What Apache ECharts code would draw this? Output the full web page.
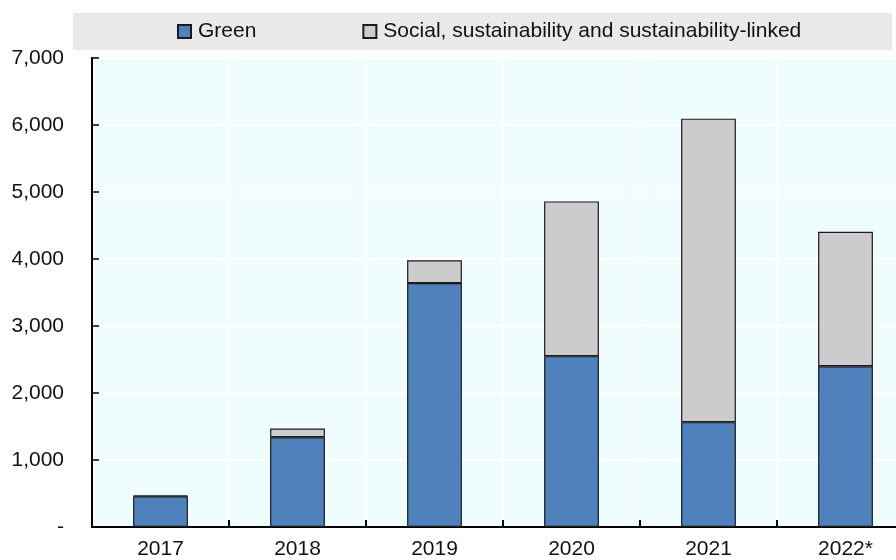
<!DOCTYPE html>
<html>
<head>
<meta charset="utf-8">
<script src="https://cdn.jsdelivr.net/npm/echarts@6/dist/echarts.min.js"></script>
<style>
html,body{margin:0;padding:0;background:#fff;overflow:hidden;width:896px;height:560px;}
#chart{width:914px;height:560px;}
</style>
</head>
<body>
<div id="chart"></div>
<script>
var categories = ['2017', '2018', '2019', '2020', '2021', '2022*'];
var greenValues = [460, 1340, 3640, 2550, 1565, 2400];
var socialValues = [10, 130, 340, 2310, 4530, 2005];
var seriesNames = ['Green', 'Social, sustainability and sustainability-linked'];

var chart = echarts.init(document.getElementById('chart'), null, {renderer: 'canvas'});
var font = '"Liberation Sans", Arial, sans-serif';
chart.setOption({
  animation: false,
  backgroundColor: '#ffffff',
  graphic: [{
    type: 'rect', left: 73, top: 13, z: -1,
    shape: {width: 819, height: 37},
    style: {fill: '#e9e9e9'}
  }],
  legend: {
    left: 177, top: 21,
    itemWidth: 13, itemHeight: 13, itemGap: 106,
    padding: 0,
    icon: 'rect',
    textStyle: {fontFamily: font, fontSize: 21, color: '#111', padding: [0, 0, 0, 2]},
    data: seriesNames
  },
  grid: {
    left: 92, top: 58, bottom: 31, right: 0,
    show: true, backgroundColor: '#f0fdff', borderColor: '#000', borderWidth: 2
  },
  xAxis: {
    type: 'category',
    data: categories,
    axisLine: {lineStyle: {color: '#000', width: 2}},
    axisTick: {show: true, inside: true, length: 7, lineStyle: {color: '#000', width: 2}},
    axisLabel: {fontFamily: font, fontSize: 21, color: '#111', margin: 12},
    splitLine: {show: true, lineStyle: {color: '#ffffff', width: 2}}
  },
  yAxis: {
    type: 'value',
    min: 0, max: 7000, interval: 1000,
    axisLine: {show: true, lineStyle: {color: '#000', width: 2}},
    axisTick: {show: true, inside: true, length: 7, lineStyle: {color: '#000', width: 1.5}},
    axisLabel: {
      fontFamily: font, fontSize: 21, color: '#111', margin: 28,
      formatter: function (v) {
        if (v === 0) return '-';
        return v.toString().replace(/\B(?=(\d{3})+(?!\d))/g, ',');
      }
    },
    splitLine: {show: true, lineStyle: {color: '#ffffff', width: 2}}
  },
  series: [{
    name: seriesNames[0], type: 'bar', stack: 'a', barWidth: '40%',
    data: greenValues,
    itemStyle: {color: '#4f81bd', borderColor: '#1a1a1a', borderWidth: 1.2}
  }, {
    name: seriesNames[1], type: 'bar', stack: 'a', barWidth: '40%',
    data: socialValues,
    itemStyle: {color: '#cccccc', borderColor: '#1a1a1a', borderWidth: 1.2}
  }]
});
</script>
</body>
</html>
